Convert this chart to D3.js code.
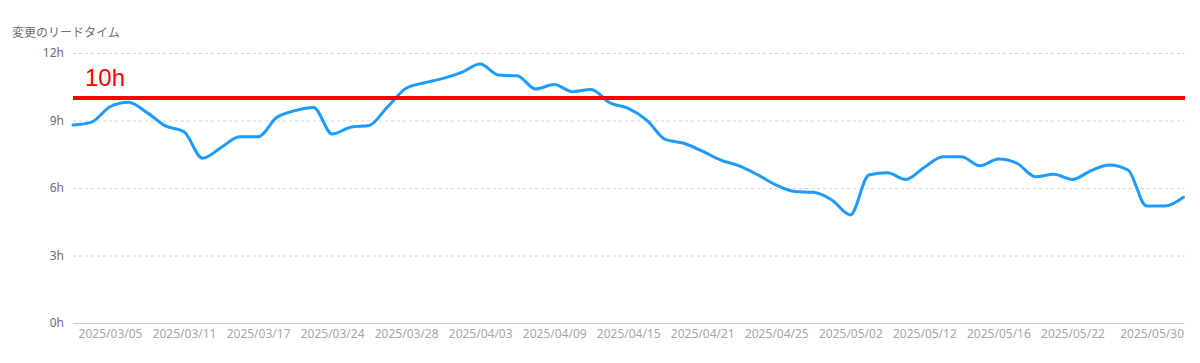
<!DOCTYPE html>
<html>
<head>
<meta charset="utf-8">
<script src="https://cdn.jsdelivr.net/npm/d3@7"></script>
<style>
  html, body { margin: 0; padding: 0; background: #fff; }
  svg { display: block; }
</style>
</head>
<body>
<svg id="chart" width="1200" height="363"></svg>
<script>
const dates = [
  "2025/03/03","2025/03/04","2025/03/05","2025/03/06","2025/03/07","2025/03/10","2025/03/11","2025/03/12","2025/03/13","2025/03/14",
  "2025/03/17","2025/03/18","2025/03/19","2025/03/21","2025/03/24","2025/03/25","2025/03/26","2025/03/27","2025/03/28","2025/03/31",
  "2025/04/01","2025/04/02","2025/04/03","2025/04/04","2025/04/07","2025/04/08","2025/04/09","2025/04/10","2025/04/11","2025/04/14",
  "2025/04/15","2025/04/16","2025/04/17","2025/04/18","2025/04/21","2025/04/22","2025/04/23","2025/04/24","2025/04/25","2025/04/28",
  "2025/04/30","2025/05/01","2025/05/02","2025/05/07","2025/05/08","2025/05/09","2025/05/12","2025/05/13","2025/05/14","2025/05/15",
  "2025/05/16","2025/05/19","2025/05/20","2025/05/21","2025/05/22","2025/05/23","2025/05/26","2025/05/27","2025/05/28","2025/05/29",
  "2025/05/30"
];
const leadTimeHours = [
  8.8, 8.93, 9.61, 9.81, 9.35, 8.76, 8.5, 7.32, 7.8, 8.28,
  8.28, 9.13, 9.44, 9.58, 8.4, 8.7, 8.78, 9.61, 10.43, 10.68,
  10.87, 11.14, 11.51, 11.02, 10.99, 10.4, 10.6, 10.28, 10.38, 9.79,
  9.54, 9.02, 8.16, 7.99, 7.64, 7.24, 6.98, 6.58, 6.13, 5.84,
  5.81, 5.47, 4.8, 6.58, 6.68, 6.38, 6.92, 7.39, 7.39, 6.99,
  7.29, 7.1, 6.5, 6.61, 6.38, 6.77, 7.02, 6.8, 5.2, 5.2,
  5.59
];
const xTickLabels = ["2025/03/05","2025/03/11","2025/03/17","2025/03/24","2025/03/28","2025/04/03","2025/04/09","2025/04/15","2025/04/21","2025/04/25","2025/05/02","2025/05/12","2025/05/16","2025/05/22","2025/05/30"];
const yTicks = [0, 3, 6, 9, 12];
const targetHours = [10];
const titleText = ["変更のリードタイム"];

const svg = d3.select("#chart");
const mLeft = 73, mRight = 1183.5, mTop = 53, mBottom = 323;

const x = d3.scalePoint().domain(dates).range([mLeft, mRight]);
const y = d3.scaleLinear().domain([0, 12]).range([mBottom, mTop]);

// grid lines
svg.append("g").selectAll("line").data(yTicks.filter(d => d > 0)).join("line")
  .attr("x1", mLeft).attr("x2", mRight + 1)
  .attr("y1", d => y(d) + 0.5).attr("y2", d => y(d) + 0.5)
  .attr("stroke", "#d2d2d2").attr("stroke-width", 1).attr("stroke-dasharray", "3,3");

// base axis line
svg.append("line").attr("x1", mLeft).attr("x2", mRight + 1)
  .attr("y1", y(0) + 0.5).attr("y2", y(0) + 0.5)
  .attr("stroke", "#c8c8c8").attr("stroke-width", 1.2);

// y labels
const yAxis = d3.axisLeft(y).tickValues(yTicks).tickFormat(d => d + "h").tickSize(0).tickPadding(9);
const yg = svg.append("g").attr("transform", `translate(${mLeft},0)`).call(yAxis);
yg.select(".domain").remove();
yg.selectAll("text").attr("fill", "#6e6e6e").style("font-family", "'Noto Sans', sans-serif").style("font-size", "12px");

// x labels
const xAxis = d3.axisBottom(x).tickValues(xTickLabels).tickSize(0).tickPadding(6);
const xg = svg.append("g").attr("transform", `translate(0,${mBottom})`).call(xAxis);
xg.select(".domain").remove();
xg.selectAll("text").attr("fill", "#a6a6a6").style("font-family", "'Noto Sans', sans-serif").style("font-size", "12px")
  .attr("text-anchor", d => d === dates[dates.length - 1] ? "end" : "middle");

// title
svg.append("text").attr("x", 12).attr("y", 37).text(titleText[0])
  .attr("fill", "#6e6e6e").style("font-family", "'Noto Sans CJK JP', sans-serif").style("font-size", "12px");

// data line
const line = d3.line().x((d, i) => x(dates[i])).y(d => y(d)).curve(d3.curveMonotoneX);
svg.append("path").datum(leadTimeHours).attr("d", line)
  .attr("fill", "none").attr("stroke", "#1e9bff").attr("stroke-width", 3)
  .attr("stroke-linejoin", "round").attr("stroke-linecap", "round");

// target line
svg.append("g").selectAll("line").data(targetHours).join("line")
  .attr("x1", mLeft).attr("x2", mRight + 1.5)
  .attr("y1", d => y(d)).attr("y2", d => y(d))
  .attr("stroke", "#ff0000").attr("stroke-width", 4);
svg.append("g").selectAll("text").data(targetHours).join("text")
  .attr("x", 85).attr("y", d => y(d) - 12).text(d => d + "h")
  .attr("fill", "#ff0000").style("font-family", "'Liberation Sans', Arial, sans-serif").style("font-size", "24px");
</script>
</body>
</html>
